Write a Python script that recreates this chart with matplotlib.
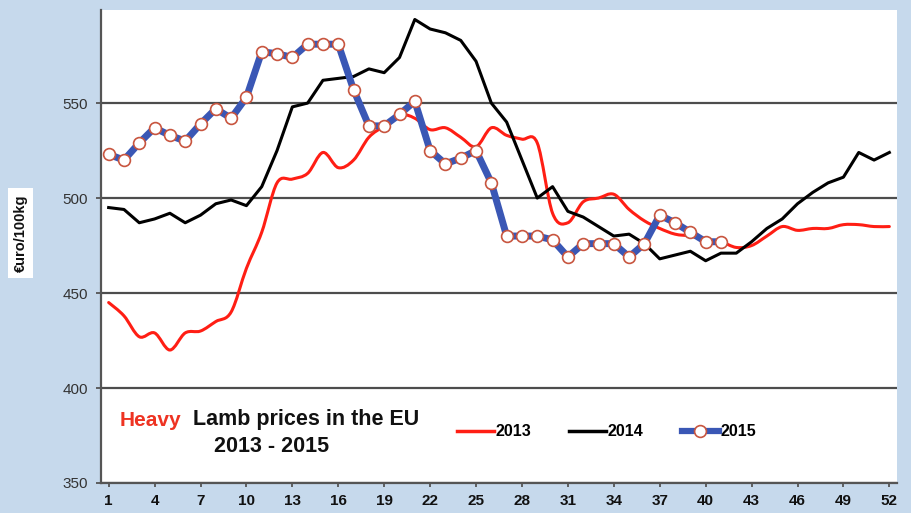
import numpy as np
import matplotlib
matplotlib.use("Agg")
import matplotlib.pyplot as plt
from matplotlib.path import Path
from matplotlib.patches import PathPatch
from matplotlib.lines import Line2D

plt.rcParams["font.family"] = ["Liberation Sans", "DejaVu Sans"]

W, H = 911, 513

weeks = list(range(1, 53))
tick_weeks = list(range(1, 53, 3))
y_ticks = [350, 400, 450, 500, 550]

price_2013 = [445, 438, 427, 429, 420, 429, 430, 435, 440, 463, 482, 508, 510,
              513, 524, 516, 520, 532, 538, 544, 542, 536, 537, 532, 527, 537,
              533, 531, 529, 492, 487, 498, 500, 502, 494, 488, 484, 481, 480,
              478, 477, 474, 475, 480, 485, 483, 484, 484, 486, 486, 485, 485]
price_2014 = [495, 494, 487, 489, 492, 487, 491, 497, 499, 496, 506, 525, 548,
              550, 562, 563, 564, 568, 566, 574, 594, 589, 587, 583, 572, 550,
              540, 520, 500, 506, 493, 490, 485, 480, 481, 476, 468, 470, 472,
              467, 471, 471, 477, 484, 489, 497, 503, 508, 511, 524, 520, 524]
price_2015 = [523, 520, 529, 537, 533, 530, 539, 547, 542, 553, 577, 576, 574,
              581, 581, 581, 557, 538, 538, 544, 551, 525, 518, 521, 525, 508,
              480, 480, 480, 478, 469, 476, 476, 476, 469, 476, 491, 487, 482,
              477, 477]

RED = "#FF1E14"
BLUE = "#3A57B5"
MARK_EDGE = "#C8553F"
BG = "#C6D9EC"
GRID = "#4d4d4d"


def smooth_path(x, y):
    """Excel-like smoothed line: Catmull-Rom segments as cubic Beziers."""
    p = np.column_stack([x, y]).astype(float)
    n = len(p)
    verts = [p[0]]
    codes = [Path.MOVETO]
    for i in range(n - 1):
        p0 = p[i - 1] if i > 0 else p[i]
        p3 = p[i + 2] if i + 2 < n else p[i + 1]
        c1 = p[i] + (p[i + 1] - p0) / 6.0
        c2 = p[i + 1] - (p3 - p[i]) / 6.0
        verts += [c1, c2, p[i + 1]]
        codes += [Path.CURVE4] * 3
    return Path(verts, codes)


fig = plt.figure(figsize=(W / 100, H / 100), dpi=100)
fig.patch.set_facecolor(BG)
ax = fig.add_axes([101 / W, (H - 483) / H, (897 - 101) / W, (483 - 10) / H])
ax.set_facecolor("white")

ax.set_xlim(0.5, 52.5)
ax.set_ylim(350, 599)

ax.set_yticks(y_ticks)
ax.set_xticks(tick_weeks)
ax.set_xticklabels([str(w) for w in tick_weeks], fontweight="bold")
ax.yaxis.grid(True, color=GRID, linewidth=1.6, zorder=0)
ax.set_axisbelow(True)

for s in ("top", "right"):
    ax.spines[s].set_visible(False)
for s in ("left", "bottom"):
    ax.spines[s].set_color("#555555")
    ax.spines[s].set_linewidth(1.6)

ax.tick_params(axis="y", direction="out", length=3.6, width=1.3,
               color="#555555", labelsize=11, labelcolor="#333333", pad=6)
ax.tick_params(axis="x", direction="out", length=3, width=1.3,
               color="#555555", labelsize=11, labelcolor="#111111", pad=5)

ax.add_patch(PathPatch(smooth_path(weeks, price_2013), facecolor="none",
                       edgecolor=RED, linewidth=2.2, zorder=3,
                       capstyle="round", joinstyle="round"))
ax.plot(weeks, price_2014, color="black", linewidth=2.2, zorder=4,
        solid_joinstyle="round")
ax.plot(weeks[:len(price_2015)], price_2015, color=BLUE, linewidth=5,
        marker="o", markersize=8.5, markerfacecolor="white",
        markeredgecolor=MARK_EDGE, markeredgewidth=1.2, zorder=5)

handles = [
    Line2D([], [], color=RED, linewidth=2.5),
    Line2D([], [], color="black", linewidth=2.5),
    Line2D([], [], color=BLUE, linewidth=4.5, marker="o", markersize=8.5,
           markerfacecolor="white", markeredgecolor=MARK_EDGE,
           markeredgewidth=1.2),
]
leg = ax.legend(handles, ["2013", "2014", "2015"], ncol=3, frameon=False,
                loc="center left", bbox_to_anchor=(457 / W, 1 - 432 / H),
                bbox_transform=fig.transFigure, borderpad=0, borderaxespad=0,
                handlelength=2.3, handletextpad=0.1, columnspacing=2.4,
                numpoints=1, prop={"weight": "bold", "size": 11.5})

fig.text(120 / W, 1 - 420 / H, "Heavy", color="#EE3322", fontsize=15,
         fontweight="bold", ha="left", va="center")
fig.text(193 / W, 1 - 420 / H, "Lamb prices in the EU", color="#111111",
         fontsize=15.5, fontweight="bold", ha="left", va="center")
fig.text(272 / W, 1 - 446 / H, "2013 - 2015", color="#111111", fontsize=15.5,
         fontweight="bold", ha="center", va="center")

fig.text(20.5 / W, 1 - 233 / H, "€uro/100kg", rotation=90, fontsize=10.5,
         fontweight="bold", ha="center", va="center", color="#111111",
         bbox=dict(boxstyle="square,pad=0.4", facecolor="white",
                   edgecolor="none"))

fig.savefig("out.png", dpi=100, facecolor=BG)
